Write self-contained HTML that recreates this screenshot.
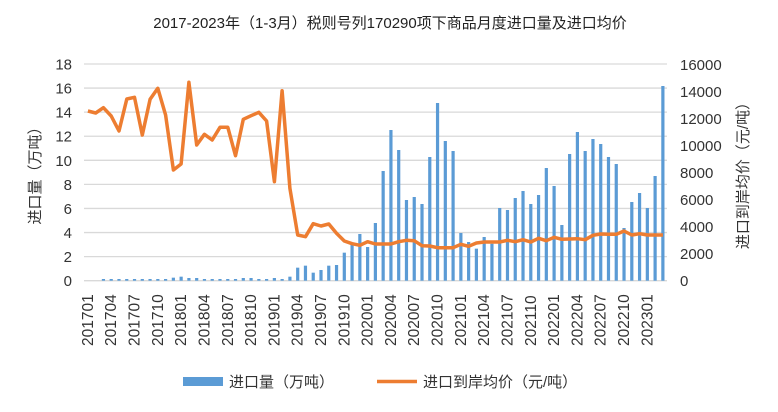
<!DOCTYPE html>
<html><head><meta charset="utf-8"><style>
body{margin:0;background:#fff;width:778px;height:412px;overflow:hidden}
svg{display:block;font-family:"Liberation Sans","Noto Sans CJK SC",sans-serif}
</style></head><body>
<svg id="s" width="778" height="412" xmlns="http://www.w3.org/2000/svg"></svg>
<script>
const s=document.getElementById('s');let h='';
h+='<text x="390" y="28" font-size="15" text-anchor="middle" fill="#222">2017-2023年（1-3月）税则号列170290项下商品月度进口量及进口均价</text>';
for(let k=0;k<=9;k++){const y=280.7-k*2*12.04;
h+=`<line x1="84" x2="667" y1="${y}" y2="${y}" stroke="#d9d9d9" stroke-width="1.3"/>`;
h+=`<text x="72" y="${y+5.5}" font-size="15" text-anchor="end" fill="#333">${k*2}</text>`;}
for(let k=0;k<=8;k++){const y=280.7-k*216.4/8;
h+=`<text x="680" y="${y+5.5}" font-size="15" fill="#333">${k*2000}</text>`;}
const bars=[null,null,672,672,672,672,672,672,672,672,672,668,665,669,669,672,672,672,672,672,669,669,672,672,669,672,665,638,632,653,645,632,630,593,570,537,576,504,
348,225,285,435,426,447,306,144,258,288,534,561,581,546,566,459,465,429,408,447,420,339,393,510,297,231,288,252,267,306,327,519,441,414,459,363,93];
const line=[168,174,158,183,228,132,127,240,133,100,180,345,327,82,270,238,255,217,217,302,193,182,172,198,380,107,400,540,545,506,513,507,535,558,566,571,560,567,
567,567,560,556,557,572,573,578,578,578,568,574,564,561,561,561,556,560,554,561,550,557,547,553,552,551,554,541,537,538,538,528,540,536,540,540,540];
const cx=i=>87.9+7.77*i;
bars.forEach((z,i)=>{if(z==null)return;const y=55+z/3;h+=`<rect x="${cx(i)-1.6}" y="${y}" width="3.2" height="${280.7-y}" fill="#5b9bd5"/>`;});
h+='<polyline fill="none" stroke="#ed7d31" stroke-width="3.5" stroke-linejoin="round" points="'+line.map((z,i)=>cx(i).toFixed(1)+','+(55+z/3).toFixed(1)).join(' ')+'"/>';
for(let i=0;i<75;i+=3){const y=2017+Math.floor(i/12),m=i%12+1;const t=y+(m<10?'0':'')+m;const x=cx(i)+5;
h+=`<text transform="translate(${x},346) rotate(-90)" font-size="15.5" fill="#333">${t}</text>`;}
h+='<text transform="translate(40,172) rotate(-90)" font-size="15" text-anchor="middle" fill="#333">进口量（万吨）</text>';
h+='<text transform="translate(748,172) rotate(-90)" font-size="15" text-anchor="middle" fill="#333">进口到岸均价（元/吨）</text>';
h+='<rect x="183" y="377" width="40" height="9" fill="#5b9bd5"/><text x="229" y="387" font-size="15" fill="#333">进口量（万吨）</text>';
h+='<line x1="377" x2="417" y1="381.5" y2="381.5" stroke="#ed7d31" stroke-width="3.5"/><text x="423" y="387" font-size="15" fill="#333">进口到岸均价（元/吨）</text>';
s.innerHTML=h;
</script>
</body></html>
